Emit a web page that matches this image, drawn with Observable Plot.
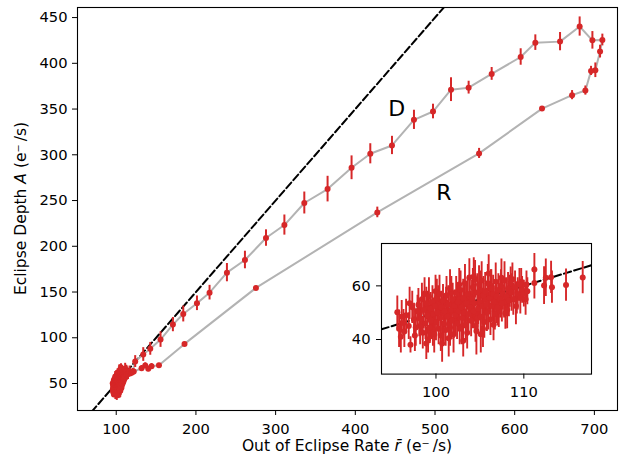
<!DOCTYPE html>
<html><head><meta charset="utf-8">
<script src="https://cdn.jsdelivr.net/npm/d3@7"></script>
<script src="https://cdn.jsdelivr.net/npm/@observablehq/plot@0.6"></script>
<style>
body{margin:0;background:white;}
#wrap{position:relative;width:622px;height:458px;font-family:"DejaVu Sans",sans-serif;}
#wrap svg{position:absolute;}
</style></head><body><div id="wrap"></div>
<script>
// ---- data: [rate r̄, depth A, error] ----
const quiescent = [
[98.2,45.0,7],[98.7,57.0,6],[99.05,52.0,6],[99.35,47.5,7],[99.65,43.5,6],[99.95,58.0,6],[100.25,53.0,7],[100.55,41.5,6],[100.85,50.0,7],[101.15,53.5,6],
[101.45,40.5,7],[101.75,57.5,6],[102.05,47.5,7],[102.35,51.0,6],[102.65,60.5,6],[102.95,45.0,7],[103.25,53.0,7],[103.55,42.5,6],[103.85,56.0,7],[104.15,51.0,7],
[104.45,62.5,7],[104.75,48.0,6],[105.05,58.5,7],[105.35,44.0,7],[105.65,55.0,6],[105.95,50.5,7],[106.25,60.0,6],[106.55,45.5,6],[106.85,53.0,7],[107.15,50.5,6],
[107.45,63.0,7],[107.75,54.0,6],[108.1,51.0,7],[108.4,58.0,6],[108.7,62.5,6],[109.2,55.5,6],[109.7,61.5,5],[110.3,60.5,5],[97.0,53.5,6],[96.4,43.0,6],
[97.6,41.5,6],[98.9,38.5,6],[101.6,44.5,7],[103.1,39.5,6],[105.1,42.0,7],[104.3,63.5,7],[102.7,55.0,6],
[95.6,50.2,6],[95.8,44.0,7],[96.0,41.0,6],[96.1,48.5,6],[96.3,46.2,5],[96.6,49.0,6],[96.9,45.0,5],[97.1,38.0,3],[97.3,52.0,6],[97.5,47.5,6],
[97.7,44.5,7],[97.9,50.5,6],[98.0,53.0,6],[98.1,48.0,7],[98.3,47.7,6],[98.4,55.0,6],[98.5,42.5,6],[98.6,51.0,7],[98.8,46.0,6],[98.9,53.5,6],
[99.0,49.0,7],[99.1,40.0,5],[99.2,56.0,7],[99.3,44.5,6],[99.4,51.5,6],[99.5,47.0,7],[99.6,54.0,6],[99.7,49.5,6],[99.8,42.0,7],[99.9,52.5,6],
[100.0,46.5,7],[100.1,55.5,7],[100.2,50.0,6],[100.3,44.0,6],[100.4,57.0,7],[100.5,48.0,7],[100.6,52.0,6],[100.7,38.5,7],[100.8,54.5,6],[100.9,46.0,7],
[101.0,50.5,6],[101.1,43.5,6],[101.2,56.5,7],[101.3,48.5,6],[101.4,53.0,7],[101.5,45.5,6],[101.6,59.0,7],[101.7,51.0,6],[101.8,47.0,7],[101.9,55.0,6],
[102.0,42.0,7],[102.1,52.5,6],[102.2,49.0,7],[102.3,57.5,6],[102.4,46.0,6],[102.5,54.0,7],[102.6,50.5,6],[102.7,44.0,6],[102.8,58.5,7],[102.9,52.0,6],
[103.0,48.0,7],[103.1,55.5,7],[103.2,50.0,6],[103.3,61.0,7],[103.4,45.5,6],[103.5,53.5,7],[103.6,57.0,6],[103.7,49.5,7],[103.8,63.1,7],[103.9,52.0,6],
[104.0,47.0,6],[104.1,55.0,7],[104.2,59.5,7],[104.3,50.5,6],[104.4,53.5,7],[104.5,45.0,6],[104.6,43.2,9],[104.7,57.5,7],[104.8,51.5,6],[104.9,60.5,7],
[105.0,54.0,6],[105.1,48.5,7],[105.2,62.0,7],[105.3,52.5,6],[105.4,56.5,7],[105.5,46.5,6],[105.6,58.0,7],[105.7,53.0,6],[105.8,50.0,7],[105.9,61.0,7],
[106.0,64.6,7],[106.1,55.5,6],[106.2,47.5,6],[106.3,59.0,7],[106.4,52.5,6],[106.5,57.0,7],[106.6,54.0,6],[106.7,49.5,6],[106.8,61.5,7],[106.9,56.0,6],
[107.0,52.0,7],[107.1,58.5,6],[107.3,55.0,7],[107.4,60.0,6],[107.5,53.5,7],[107.6,57.0,6],[107.8,62.0,7],[107.9,49.8,6],[108.0,56.0,7],[108.2,59.0,6],
[108.3,54.5,6],[108.5,61.0,6],[108.6,57.5,7],[108.8,55.0,6],[109.0,59.5,6],[109.1,52.5,7],[109.3,57.0,6],[109.5,60.5,6],[109.6,55.5,6],[109.8,58.5,5],
[110.0,57.1,5],[110.2,55.0,6],[110.4,58.0,5],
[111.2,66.1,6],[111.2,61.1,6],[112.3,60.1,7],[112.5,63.0,7],[113.1,63.2,6],[113.2,59.5,6],[114.8,60.3,6],[116.7,63.1,6]
];
const leadIn = [[118.5,61.5,4],[120.5,62.5,4]];
const dBranch = [
[123.8,74.0,6.5],[133.9,81.7,7.5],[142.7,87.9,7],[155.6,98.0,8.5],[171.1,114.4,7.8],[184.1,126.0,8.7],[201.3,137.7,8],[217.1,149.3,8],
[238.9,171.2,10],[261.5,185.0,9.6],[287.9,209.0,9],[311.0,223.2,11],[336.0,247.3,12],[365.2,262.5,14],[395.3,285.8,13],[418.8,301.1,11],
[446.0,310.2,10],[473.6,338.2,10.5],[497.5,347.3,8],[520.1,371.2,13],[542.2,373.4,7],[571.1,388.4,7],[607.5,406.9,9],[625.9,422.6,8.5],
[656.9,423.7,10],[681.5,440.2,10.5],[697.5,425.1,9.6],[710.0,425.5,6.4]
];
const rBranch = [
[707.1,412.8,7],[701.2,392.4,8],[695.8,391.7,5],[688.7,370.2,5],[672.0,365.2,5],[634.3,350.5,2],[555.3,301.5,5.5],[427.6,237.0,5.8],
[275.3,154.5,2],[185.7,93.3,2],[153.6,70.0,2],[144.3,68.9,3],[140.2,66.0,3],[136.4,69.6,3],[131.8,66.7,3],[122.0,63.0,3]
];
const branchLabels = ["D","R"];
const branchLabelX = [452, 511];
const branchLabelY = [350, 258];
const fitSlope = 1.0, fitIntercept = -50;   // dashed reference line A = r̄ - 50
const xTicks = [100,200,300,400,500,600,700];
const yTicks = [50,100,150,200,250,300,350,400,450];
const insetXTicks = [100,110];
const insetYTicks = [40,60];

// ---- drawing ----
const RED = "#d62728", GREY = "#b3b3b3", FONT = '"DejaVu Sans", sans-serif';
const path = [...quiescent, ...leadIn, ...dBranch, ...rBranch];
const mainX = [51.4, 729], mainY = [20.5, 461];
const insX = [93.8, 117.7], insY = [27.1, 75.8];
const fitLine = dom => dom.map(x => ({x, y: fitSlope * x + fitIntercept}));
const labels = branchLabels.map((t, i) => ({t, x: branchLabelX[i], y: branchLabelY[i]}));

const main = Plot.plot({
  width: 622, height: 458, marginLeft: 77, marginRight: 5, marginTop: 7, marginBottom: 48,
  style: {fontFamily: FONT, fontSize: "14.7px", background: "white", color: "black"},
  x: {domain: mainX}, y: {domain: mainY},
  marks: [
    Plot.line(fitLine(mainX), {x: "x", y: "y", stroke: "black", strokeWidth: 2, strokeDasharray: "7.4,3.2", clip: true}),
    Plot.line(path, {x: d => d[0], y: d => d[1], stroke: GREY, strokeWidth: 2}),
    Plot.ruleX(path, {x: d => d[0], y1: d => d[1] - d[2], y2: d => d[1] + d[2], stroke: RED, strokeWidth: 2}),
    Plot.dot(path, {x: d => d[0], y: d => d[1], r: 3, fill: RED, stroke: "none"}),
    Plot.text(labels, {x: "x", y: "y", text: "t", fontSize: 22, fill: "black"}),
    Plot.axisX({ticks: xTicks, tickSize: 5, tickPadding: 8, label: null, tickFormat: d => String(d)}),
    Plot.axisY({ticks: yTicks, tickSize: 5, tickPadding: 5, label: null, tickFormat: d => String(d)}),
    Plot.frame({stroke: "black", strokeWidth: 1.1})
  ]
});
main.style.left = "0px"; main.style.top = "0px";

const inset = Plot.plot({
  width: 255, height: 168, marginLeft: 40, marginRight: 5, marginTop: 5, marginBottom: 32.4,
  style: {fontFamily: FONT, fontSize: "14.7px", background: "transparent", color: "black"},
  x: {domain: insX}, y: {domain: insY},
  marks: [
    Plot.frame({fill: "white", stroke: "none"}),
    Plot.line(fitLine(insX), {x: "x", y: "y", stroke: "black", strokeWidth: 2, strokeDasharray: "7.4,3.2", clip: true}),
    Plot.ruleX(quiescent, {x: d => d[0], y1: d => d[1] - d[2], y2: d => d[1] + d[2], stroke: RED, strokeWidth: 1.9, clip: true}),
    Plot.dot(quiescent, {x: d => d[0], y: d => d[1], r: 3, fill: RED, stroke: "none", clip: true}),
    Plot.axisX({ticks: insetXTicks, tickSize: 5, tickPadding: 7, label: null, tickFormat: d => String(d)}),
    Plot.axisY({ticks: insetYTicks, tickSize: 5, tickPadding: 6, label: null, tickFormat: d => String(d)}),
    Plot.frame({stroke: "black", strokeWidth: 1.1})
  ]
});
inset.style.left = "340.7px"; inset.style.top = "237.7px";

const wrap = document.getElementById("wrap");
wrap.appendChild(main);
wrap.appendChild(inset);

// axis titles with italic symbols
const svg = d3.select(main);
const xl = svg.append("text").attr("x", 347).attr("y", 451).attr("text-anchor", "middle")
  .attr("font-family", FONT).attr("font-size", "15.5px").attr("fill", "black");
xl.append("tspan").text("Out of Eclipse Rate ");
xl.append("tspan").attr("font-style", "italic").text("r\u0304");
xl.append("tspan").text(" (e\u207B\u2009/s)");
const yl = svg.append("text").attr("transform", "translate(26,208.5) rotate(-90)").attr("text-anchor", "middle")
  .attr("font-family", FONT).attr("font-size", "15.5px").attr("fill", "black");
yl.append("tspan").text("Eclipse Depth ");
yl.append("tspan").attr("font-style", "italic").text("A");
yl.append("tspan").text(" (e\u207B\u2009/s)");
</script></body></html>
